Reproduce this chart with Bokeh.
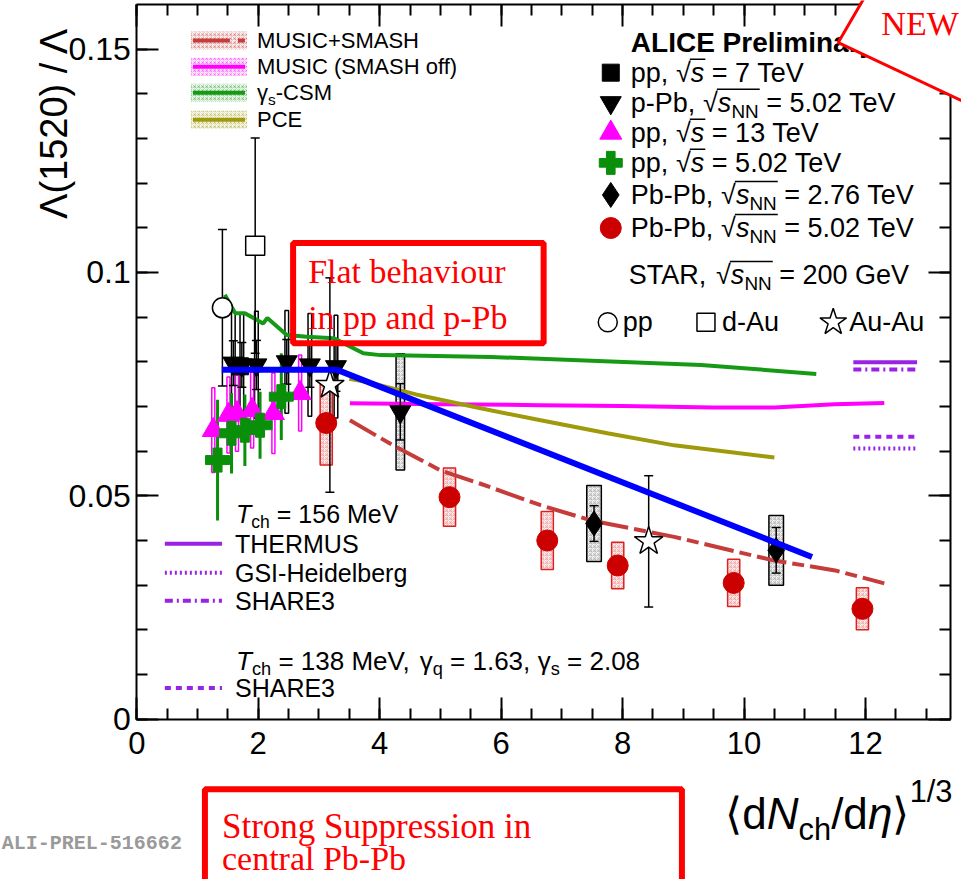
from math import pi

from bokeh.plotting import figure
from bokeh.core.properties import value
from bokeh.models import (Range1d, LinearAxis, SingleIntervalTicker, CustomJSTickFormatter,
                          Label, PolyAnnotation)
from bokeh.embed import file_html
from bokeh.resources import INLINE

# ---------------------------------------------------------------- data
# axis ticks
x_ticks = [0, 2, 4, 6, 8, 10, 12]
x_tick_labels = ["0", "2", "4", "6", "8", "10", "12"]
y_ticks = [0.0, 0.05, 0.1, 0.15]
y_tick_labels = ["0", "0.05", "0.1", "0.15"]

# ALICE pp, sqrt(s) = 13 TeV
pp13_x = [1.26, 1.51, 1.65, 1.90, 2.25, 2.69]
pp13_y = [0.0647, 0.0681, 0.0685, 0.0692, 0.0685, 0.0730]
pp13_err = [0.0095, 0.0085, 0.0085, 0.0085, 0.0090, 0.0085]

# ALICE pp, sqrt(s) = 5.02 TeV
pp5_x = [1.33, 1.56, 1.78, 2.03, 2.38]
pp5_y = [0.0580, 0.0640, 0.0647, 0.0658, 0.0722]
pp5_err = [0.0135, 0.0090, 0.0080, 0.0075, 0.0097]

# ALICE pp, sqrt(s) = 7 TeV
pp7_x = [1.70]
pp7_y = [0.0790]
pp7_err = [0.0110]

# ALICE p-Pb, sqrt(sNN) = 5.02 TeV
ppb_x = [1.59, 1.73, 1.97, 2.47, 2.85, 3.28, 4.34]
ppb_y = [0.0797, 0.0793, 0.0793, 0.0800, 0.0793, 0.0789, 0.0688]
ppb_stat = [0.0050, 0.0050, 0.0055, 0.0050, 0.0050, 0.0055, 0.0063]
ppb_syst = [0.0115, 0.0115, 0.0120, 0.0115, 0.0115, 0.0115, 0.0130]

# ALICE Pb-Pb, sqrt(sNN) = 2.76 TeV
pb276_x = [7.53, 10.53]
pb276_y = [0.0438, 0.0378]
pb276_stat = [0.0040, 0.0051]
pb276_syst = [0.0085, 0.0078]

# ALICE Pb-Pb, sqrt(sNN) = 5.02 TeV
pb502_x = [3.12, 5.15, 6.76, 7.92, 9.83, 11.95]
pb502_y = [0.0663, 0.0497, 0.0400, 0.0344, 0.0305, 0.0247]
pb502_syst = [0.0094, 0.0065, 0.0065, 0.0052, 0.0053, 0.0047]

# STAR, sqrt(sNN) = 200 GeV
star_pp_x = [1.41]
star_pp_y = [0.0921]
star_pp_err = [0.0175]
star_dau_x = [1.95]
star_dau_y = [0.1060]
star_dau_err = [0.0241]
star_auau_x = [3.18, 8.43]
star_auau_y = [0.0748, 0.0398]
star_auau_err = [0.0240, 0.0147]

# model curves
music_smash_x = [3.51, 4.17, 5.00, 5.66, 6.65, 7.48, 8.85, 10.50, 11.50, 12.31]
music_smash_y = [0.0669, 0.0617, 0.0557, 0.0527, 0.0479, 0.0445, 0.0408, 0.0355, 0.0333, 0.0304]
music_x = [3.51, 5.00, 6.65, 8.00, 9.50, 10.50, 11.49, 12.31]
music_y = [0.0707, 0.0705, 0.0703, 0.0701, 0.0698, 0.0698, 0.0705, 0.0708]
csm_x = [1.45, 1.62, 1.78, 2.08, 2.15, 2.47, 2.80, 3.24, 3.73, 4.01, 5.83, 9.29, 11.19]
csm_y = [0.0950, 0.0909, 0.0909, 0.0886, 0.0898, 0.0860, 0.0856, 0.0853, 0.0819, 0.0815, 0.0811, 0.0793, 0.0773]
pce_x = [3.50, 3.79, 4.60, 5.66, 6.65, 7.75, 8.85, 10.50]
pce_y = [0.0762, 0.0755, 0.0727, 0.0696, 0.0669, 0.0640, 0.0613, 0.0586]

# trend guide
trend_x = [1.40, 3.30, 11.12]
trend_y = [0.0782, 0.0782, 0.0363]

# thermal-model levels
thermal_x = [11.80, 12.85]
thermus_y = 0.0799
share3_156_y = 0.0783
gsi_y = 0.0606
share3_138_y = 0.0632

# ---------------------------------------------------------------- style
SANS = "Liberation Sans"
SERIF = "Liberation Serif"
RED_M = "#c63c3a"
MAGENTA = "#ff00ff"
GREEN = "#169a16"
CROSS_GREEN = "#0a8f0a"
OLIVE = "#9e9a0c"
PB_RED = "#cc0000"
PURPLE = "#9a22e6"
BLUE = "#0000ff"
ANN_RED = "#ff0000"
SMASH_DASH = "30 6 12 6"

# axis box: x 0..13.4, y 0..0.16, drawn inside a canvas-wide frame
XMAX, YMAX = 13.4, 0.16
BOX_L, BOX_R, BOX_T, BOX_B = 137, 949, 5, 718
CW, CH = 961, 879
PANEL = 1  # thickness of each tick-only axis panel
KX = (BOX_R - BOX_L) / XMAX
KY = (BOX_B - BOX_T) / YMAX
x_start = -(BOX_L - PANEL) / KX
x_end = XMAX + (CW - PANEL - BOX_R) / KX
y_end = YMAX + (BOX_T - PANEL) / KY
y_start = -(CH - PANEL - BOX_B) / KY


def X(px):
    return (px - BOX_L) / KX


def Y(py):
    return (BOX_B - py) / KY


# Liberation Sans advance widths (1/1000 em)
W = {" ": 278, ",": 278, ".": 278, "-": 333, "+": 584, "=": 584, "/": 278,
     "(": 333, ")": 333, "√": 549, "γ": 500, "η": 556, "Λ": 667,
     "⟨": 390, "⟩": 390}
for ch in "0123456789":
    W[ch] = 556
W.update(dict(zip("ABCDEFGHIJKLMNOPQRSTUVWXYZ",
                  [667, 667, 722, 722, 667, 611, 778, 722, 278, 500, 667, 556, 833,
                   722, 778, 667, 778, 722, 667, 611, 722, 667, 944, 667, 667, 611])))
W.update(dict(zip("abcdefghijklmnopqrstuvwxyz",
                  [556, 556, 500, 556, 556, 278, 556, 556, 222, 222, 500, 222, 833,
                   556, 556, 556, 556, 333, 500, 278, 556, 500, 722, 500, 500, 500])))


def tw(s, fs):
    return sum(W.get(c, 556) for c in s) * fs / 1000.0


p = figure(width=CW, height=CH, x_range=Range1d(x_start, x_end), y_range=Range1d(y_start, y_end),
           output_backend="svg", toolbar_location=None, min_border=0,
           x_axis_location=None, y_axis_location=None)
p.grid.visible = False
p.background_fill_color = "white"
p.border_fill_color = "white"
p.outline_line_color = None

# ROOT-style frame: four axes pinned to the box edges, ticks pointing inwards
blank = CustomJSTickFormatter(code="return ''")
for side, loc, dim in [("below", 0.0, "x"), ("above", YMAX, "x"),
                       ("left", 0.0, "y"), ("right", XMAX, "y")]:
    if dim == "x":
        ticker = SingleIntervalTicker(interval=2, num_minor_ticks=4)
        bounds = (0, XMAX)
    else:
        ticker = SingleIntervalTicker(interval=0.05, num_minor_ticks=5)
        bounds = (0, YMAX)
    ax = LinearAxis(ticker=ticker, formatter=blank, fixed_location=loc, bounds=bounds,
                    major_label_text_font_size="1px", major_label_standoff=0,
                    axis_line_width=2, axis_line_color="black",
                    major_tick_in=22, major_tick_out=0, minor_tick_in=11, minor_tick_out=0,
                    major_tick_line_width=2, minor_tick_line_width=2)
    p.add_layout(ax, side)

# tick labels
p.text(x=x_ticks, y=[Y(742)] * len(x_ticks), text=x_tick_labels, text_font=value(SANS),
       text_font_size="31px", text_align="center", text_baseline="middle", text_color="black")
p.text(x=[X(131)] * len(y_ticks), y=y_ticks, text=y_tick_labels, text_font=value(SANS),
       text_font_size="32px", text_align="right", text_baseline="middle", text_color="black")


def boxes(xs, ys, errs, half_w, line_color, hatch_color, lw=1.5):
    p.quad(left=[x - half_w for x in xs], right=[x + half_w for x in xs],
           bottom=[y - e for y, e in zip(ys, errs)], top=[y + e for y, e in zip(ys, errs)],
           fill_color="white", fill_alpha=0, line_color=line_color, line_width=lw,
           hatch_pattern="criss_cross", hatch_color=hatch_color, hatch_scale=4,
           hatch_alpha=0.7, hatch_weight=1)


def bars(xs, ys, errs, color, lw=1.5, caps=True):
    lo = [y - e for y, e in zip(ys, errs)]
    hi = [y + e for y, e in zip(ys, errs)]
    p.segment(x0=xs, y0=lo, x1=xs, y1=hi, line_color=color, line_width=lw)
    if caps:
        p.scatter(xs + xs, lo + hi, marker="dash", size=9, line_color=color, line_width=lw)


# systematic boxes
boxes(pb502_x, pb502_y, pb502_syst, 0.10, "#dd2020", "#f0a0a0")
boxes(pb276_x, pb276_y, pb276_syst, 0.12, "black", "#b0b0b0")
boxes(ppb_x[-1:], ppb_y[-1:], ppb_syst[-1:], 0.07, "black", "#b0b0b0")
p.quad(left=[x - 0.03 for x in ppb_x[:-1]], right=[x + 0.03 for x in ppb_x[:-1]],
       bottom=[y - e for y, e in zip(ppb_y[:-1], ppb_syst[:-1])],
       top=[y + e for y, e in zip(ppb_y[:-1], ppb_syst[:-1])],
       fill_alpha=0, line_color="black", line_width=1.5)
p.quad(left=[x - 0.025 for x in pp13_x], right=[x + 0.025 for x in pp13_x],
       bottom=[y - e for y, e in zip(pp13_y, pp13_err)],
       top=[y + e for y, e in zip(pp13_y, pp13_err)],
       fill_alpha=0, line_color=MAGENTA, line_width=1.5)

# model curves
p.line(csm_x, csm_y, line_color=GREEN, line_width=4)
p.line(music_x, music_y, line_color=MAGENTA, line_width=4)
p.line(pce_x, pce_y, line_color=OLIVE, line_width=4)
p.line(music_smash_x, music_smash_y, line_color=RED_M, line_width=4, line_dash=SMASH_DASH)

# thermal model levels
p.line(thermal_x, [thermus_y] * 2, line_color=PURPLE, line_width=4)
p.line(thermal_x, [share3_156_y] * 2, line_color=PURPLE, line_width=4, line_dash="8 4 2 4")
p.line(thermal_x, [share3_138_y] * 2, line_color=PURPLE, line_width=4, line_dash="6 5")
p.line(thermal_x, [gsi_y] * 2, line_color=PURPLE, line_width=4, line_dash="2 3")

# error bars
bars(pp5_x, pp5_y, pp5_err, CROSS_GREEN, lw=3, caps=False)
bars(ppb_x, ppb_y, ppb_stat, "black")
bars(pb276_x, pb276_y, pb276_stat, "black")
bars(star_pp_x, star_pp_y, star_pp_err, "black")
bars(star_dau_x, star_dau_y, star_dau_err, "black")
bars(star_auau_x, star_auau_y, star_auau_err, "black")

# markers
p.scatter(pp13_x, pp13_y, marker="triangle", size=22, fill_color=MAGENTA, line_color=MAGENTA)
p.scatter(pp5_x, pp5_y, marker="plus", size=24, fill_color=CROSS_GREEN, line_color=CROSS_GREEN)
p.scatter(pp7_x, pp7_y, marker="square", size=17, fill_color="black", line_color="black")
p.scatter(ppb_x, ppb_y, marker="inverted_triangle", size=21, fill_color="black", line_color="black")
p.scatter(pb276_x, pb276_y, marker="diamond", size=25, fill_color="black", line_color="black")
p.scatter(pb502_x, pb502_y, marker="circle", size=21, fill_color=PB_RED, line_color=PB_RED)
p.scatter(star_pp_x, star_pp_y, marker="circle", size=20, fill_color="white", line_color="black", line_width=1.5)
p.scatter(star_dau_x, star_dau_y, marker="square", size=19, fill_color="white", line_color="black", line_width=1.5)
p.scatter(star_auau_x, star_auau_y, marker="star", size=30, fill_color="white", line_color="black", line_width=1.5)

# trend guide
p.line(trend_x, trend_y, line_color=BLUE, line_width=6)


# ---------------------------------------------------------------- text helpers
def label(px, py, text, fs, color="black", font=SANS, style="normal", align="left",
          baseline="middle", angle=0.0, level="annotation"):
    p.add_layout(Label(x=X(px), y=Y(py), text=text, text_font=font,
                       text_font_size=f"{fs:.1f}px", text_font_style=style,
                       text_color=color, text_align=align, text_baseline=baseline,
                       angle=angle, level=level))


def runs(px, py, parts, size, color="black", sup_shift=0.55, sub_shift=0.32):
    x = px
    rad = None
    for txt, kind in parts:
        if kind == "rend":
            p.line([X(rad), X(x + 1)], [Y(py - 0.50 * size)] * 2, line_color=color, line_width=1.5)
            continue
        fs, dy, style = size, 0.0, "normal"
        if kind == "i":
            style = "italic"
        elif kind == "sub":
            fs, dy = 0.7 * size, sub_shift * size
        elif kind == "sup":
            fs, dy = 0.7 * size, -sup_shift * size
        lead = len(txt) - len(txt.lstrip(" "))
        trail = len(txt) - len(txt.rstrip(" "))
        body = txt.strip(" ")
        x += lead * W[" "] * fs / 1000.0
        if body:
            label(x, py + dy, body, fs, color=color, style=style)
        x += tw(body, fs) + trail * W[" "] * fs / 1000.0
        if kind == "r":
            rad = x - 1


def sqrt_s(nn):
    parts = [("√", "r"), ("s", "i")]
    if nn:
        parts.append(("NN", "sub"))
    parts.append(("", "rend"))
    return parts


# ---------------------------------------------------------------- legends
# model legend (top left)
leg_models = [("MUSIC+SMASH", RED_M, "37 8 7 8", 41),
              ("MUSIC (SMASH off)", MAGENTA, "solid", 67),
              (None, GREEN, "solid", 93),
              ("PCE", OLIVE, "solid", 120)]
for text, col, dash, ry in leg_models:
    p.quad(left=[X(191)], right=[X(247)], top=[Y(ry - 9)], bottom=[Y(ry + 9)],
           fill_alpha=0, line_alpha=0, hatch_pattern="criss_cross", hatch_color=col,
           hatch_alpha=0.3, hatch_scale=4, hatch_weight=1)
    p.line([X(193), X(245)], [Y(ry), Y(ry)], line_color=col, line_width=4, line_dash=dash)
    if text:
        label(257, ry, text, 22)
runs(257, 93, [("γ", "n"), ("s", "sub"), ("-CSM", "n")], 22)

# data legend (top right)
label(630, 43, "ALICE Preliminary", 28, style="bold")
RF = 27
rows = [("square", "black", 17, 73, [("pp, ", "n")] + sqrt_s(False) + [(" = 7 TeV", "n")]),
        ("inverted_triangle", "black", 21, 103, [("p-Pb, ", "n")] + sqrt_s(True) + [(" = 5.02 TeV", "n")]),
        ("triangle", MAGENTA, 22, 133, [("pp, ", "n")] + sqrt_s(False) + [(" = 13 TeV", "n")]),
        ("plus", CROSS_GREEN, 23, 163, [("pp, ", "n")] + sqrt_s(False) + [(" = 5.02 TeV", "n")]),
        ("diamond", "black", 25, 195, [("Pb-Pb, ", "n")] + sqrt_s(True) + [(" = 2.76 TeV", "n")]),
        ("circle", PB_RED, 21, 228, [("Pb-Pb, ", "n")] + sqrt_s(True) + [(" = 5.02 TeV", "n")])]
for mk, col, sz, ry, parts in rows:
    p.scatter([X(610)], [Y(ry)], marker=mk, size=sz, fill_color=col, line_color=col)
    runs(630, ry, parts, RF)
runs(628, 275, [("STAR, ", "n")] + sqrt_s(True) + [(" = 200 GeV", "n")], RF)
p.scatter([X(607)], [Y(322)], marker="circle", size=19, fill_color="white", line_color="black", line_width=1.5)
label(622, 322, "pp", RF)
p.scatter([X(705)], [Y(322)], marker="square", size=18, fill_color="white", line_color="black", line_width=1.5)
label(721, 322, "d-Au", RF)
p.scatter([X(832)], [Y(322)], marker="star", size=28, fill_color="white", line_color="black", line_width=1.5)
label(848, 322, "Au-Au", RF)

# thermal model legend (bottom left)
BF = 25
runs(236, 513, [("T", "i"), ("ch", "sub"), (" = 156 MeV", "n")], BF)
for text, dash, ry in [("THERMUS", "solid", 543), ("GSI-Heidelberg", "2 3", 572),
                       ("SHARE3", "8 4 2 4", 600)]:
    p.line([X(165), X(222)], [Y(ry), Y(ry)], line_color=PURPLE, line_width=4, line_dash=dash)
    label(235, ry, text, BF)
runs(236, 660, [("T", "i"), ("ch", "sub"), (" = 138 MeV, ", "n"), ("γ", "n"), ("q", "sub"),
                (" = 1.63, ", "n"), ("γ", "n"), ("s", "sub"), (" = 2.08", "n")], 26)
p.line([X(165), X(222)], [Y(687), Y(687)], line_color=PURPLE, line_width=4, line_dash="6 5")
label(235, 687, "SHARE3", BF)

# ---------------------------------------------------------------- axis titles
label(54, 219, "Λ(1520) / Λ", 38, baseline="alphabetic", angle=pi / 2)
runs(724, 812, [("⟨", "n"), ("d", "n"), ("N", "i"), ("ch", "sub"), ("/d", "n"),
                ("η", "i"), ("⟩", "n"), ("1/3", "sup")], 44, sup_shift=0.5, sub_shift=0.36)
label(182, 842, "ALI-PREL-516662", 20, color="#9a9a9a", font="Liberation Mono",
      style="bold", align="right")

# ---------------------------------------------------------------- callouts
p.quad(left=[X(293)], right=[X(543)], top=[Y(243)], bottom=[Y(343)],
       fill_alpha=0, line_color=ANN_RED, line_width=6)
label(308, 271, "Flat behaviour", 34, color=ANN_RED, font=SERIF)
label(308, 317, "in  pp and p-Pb", 34, color=ANN_RED, font=SERIF)

p.add_layout(PolyAnnotation(xs=[X(205), X(681), X(681), X(205)],
                            ys=[Y(788), Y(788), Y(905), Y(905)],
                            fill_alpha=0, line_color=ANN_RED, line_alpha=1, line_width=6))
label(222, 825, "Strong Suppression  in", 35, color=ANN_RED, font=SERIF)
label(222, 857, "central Pb-Pb", 34, color=ANN_RED, font=SERIF)

p.add_layout(PolyAnnotation(xs=[X(866.6), X(837), X(975), X(975)],
                            ys=[Y(-8), Y(43), Y(108), Y(-8)], level="overlay",
                            fill_color="white", fill_alpha=1, line_color=ANN_RED,
                            line_alpha=1, line_width=3))
label(880, 24, "NEW", 34, color=ANN_RED, font=SERIF, level="overlay")

open("out.html", "w").write(file_html(p, INLINE))
